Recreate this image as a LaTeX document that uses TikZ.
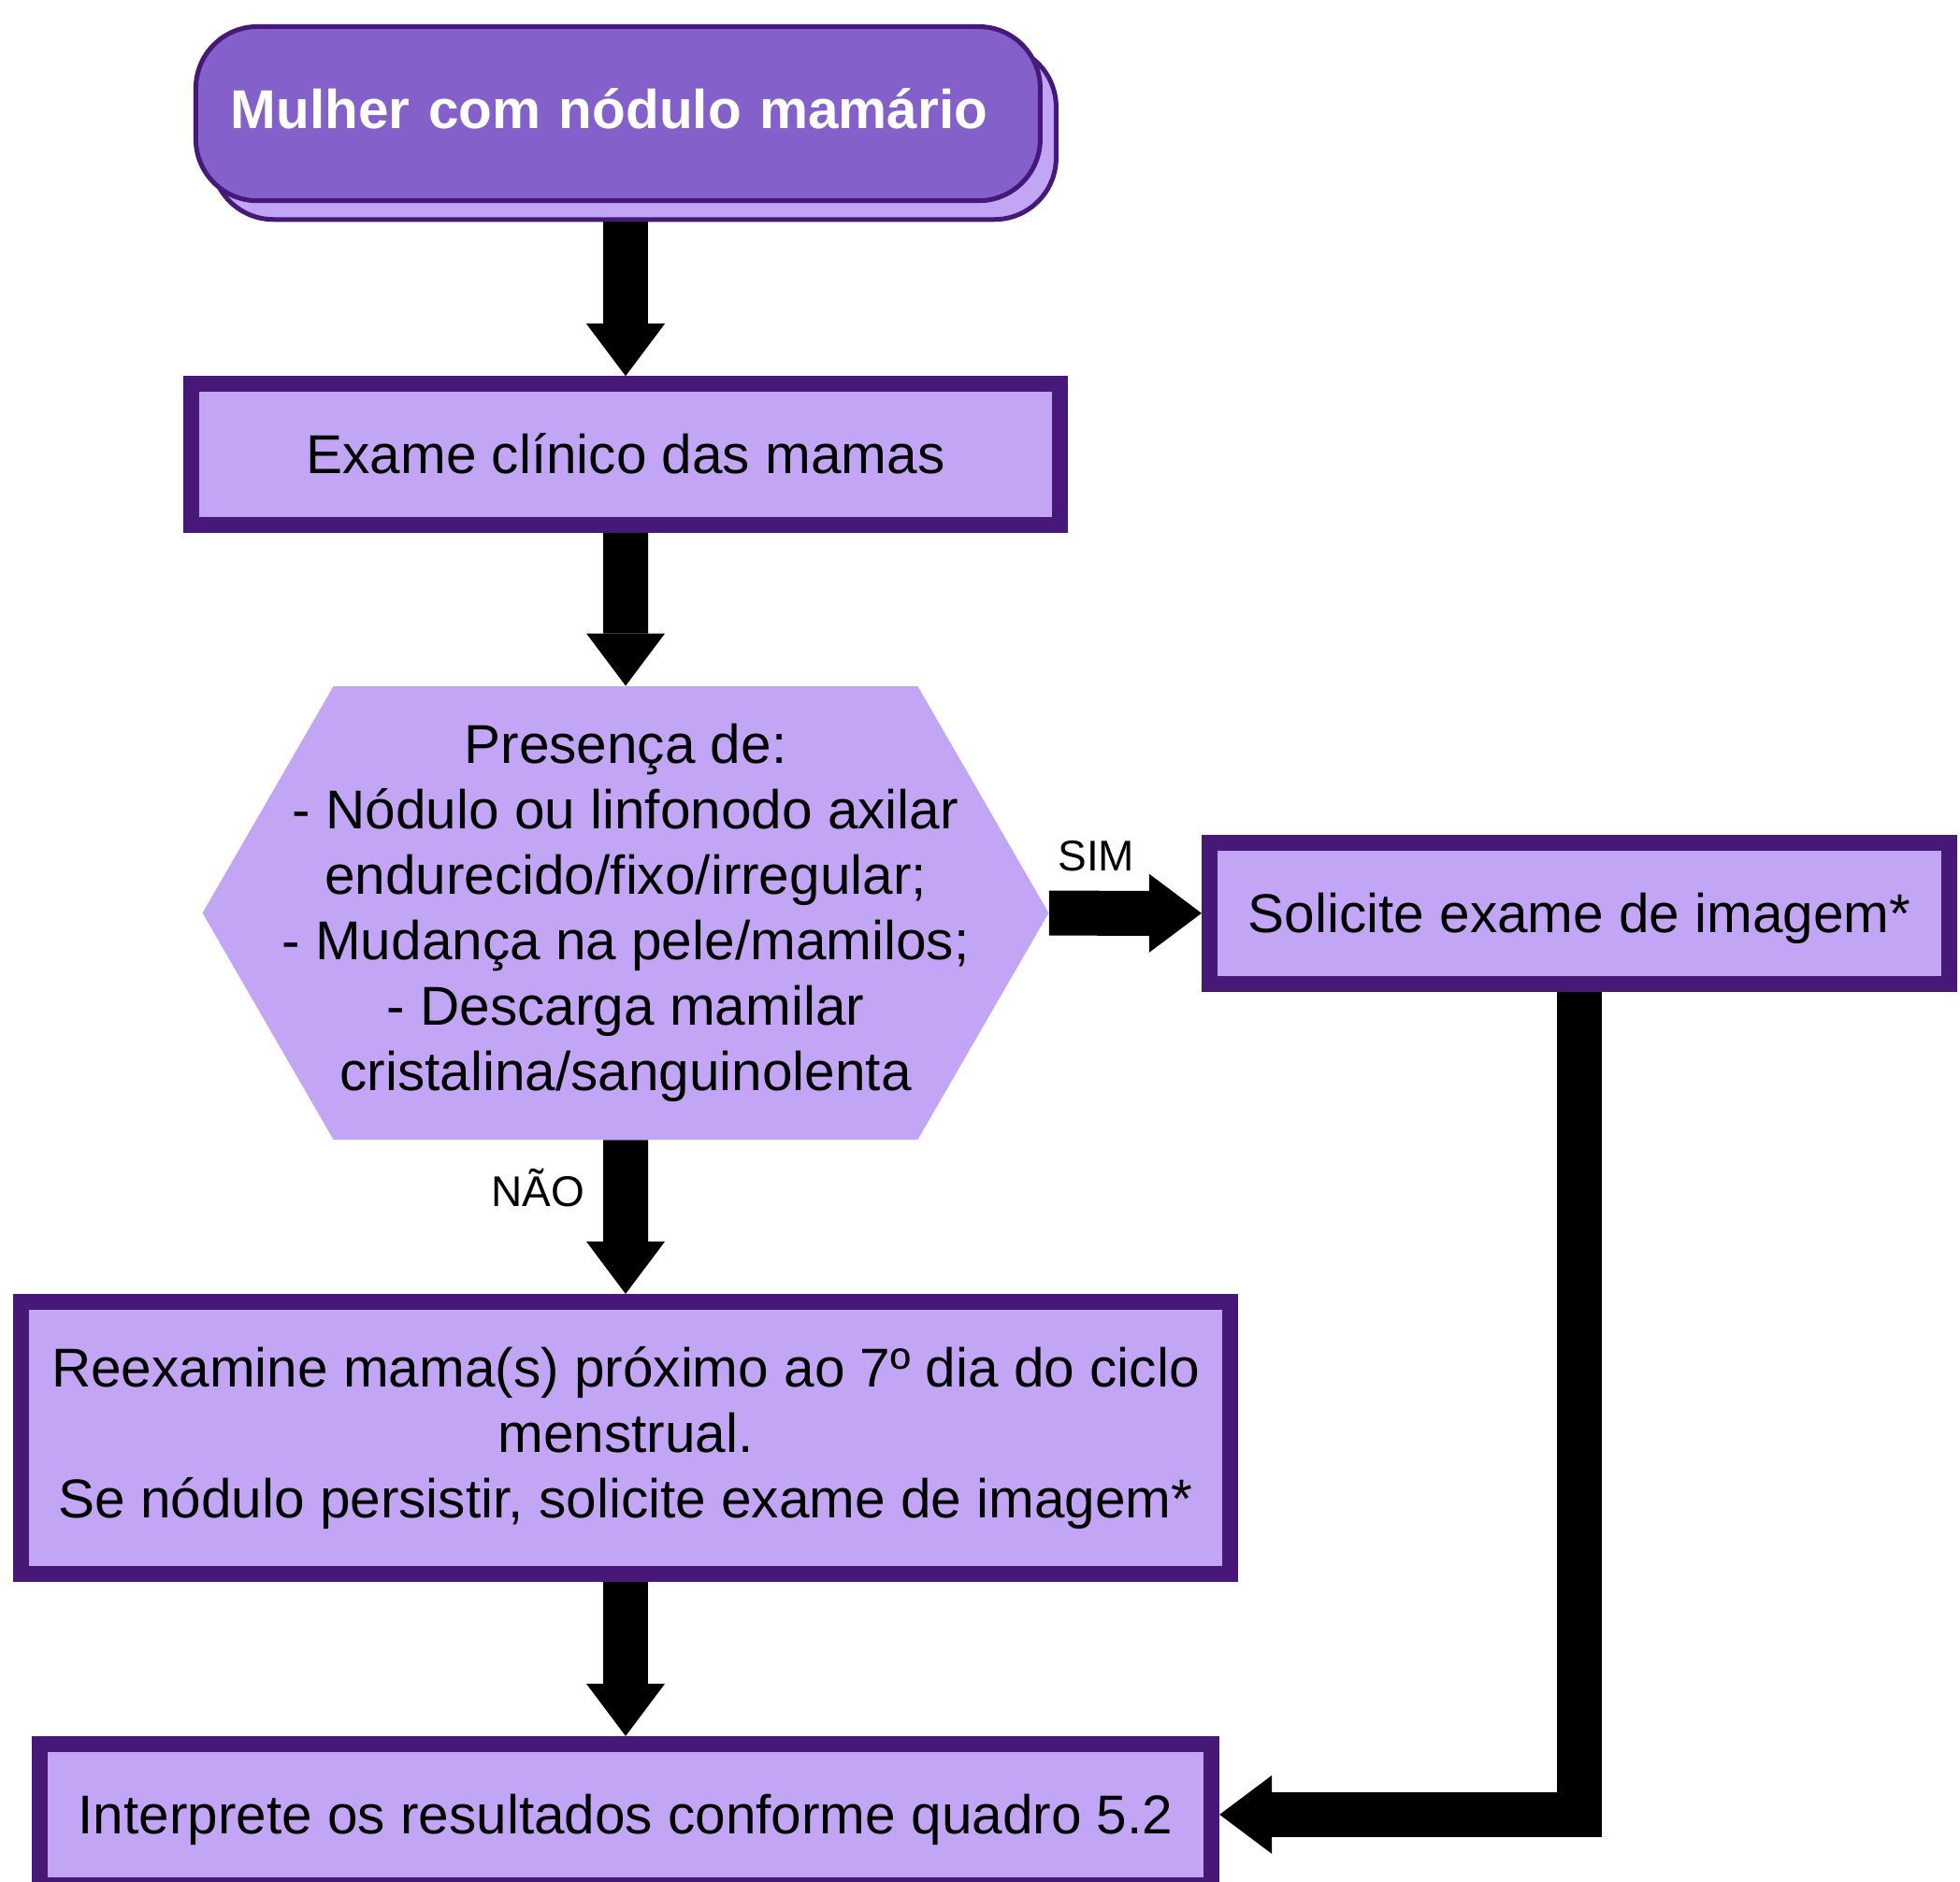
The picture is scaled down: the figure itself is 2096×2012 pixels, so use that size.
\documentclass[tikz,border=0pt]{standalone}
\usepackage{fontspec}
\setmainfont{Liberation Sans}
\usepackage{xcolor}
\usetikzlibrary{
  shapes,
  arrows.meta,
  shadows
}
\definecolor{lilac}{HTML}{C2A6F5}
\definecolor{deeppurple}{HTML}{461877}
\definecolor{midpurple}{HTML}{8461CA}

\begin{document}
\begin{tikzpicture}[x=0.5pt, y=-0.5pt,
  every node/.style = {font=\fontsize{29.25pt}{35pt}\selectfont, align=center},
  box/.style = {rectangle, draw=deeppurple, line width=8.5pt, fill=lilac,
    minimum height=75.5pt, inner sep=0pt},
  onebox/.style = {box, text height=24.9pt, text depth=4.4pt},
  flow/.style = {line width=24pt,
    -{Triangle[width=42pt, length=28pt, line width=0pt]}},
  answer/.style = {font=\fontsize{23pt}{27pt}\selectfont, inner sep=0pt}]
  \useasboundingbox (0,0) rectangle (2096,2012);
  \node[rectangle, rounded corners=33pt, draw=deeppurple, line width=2.5pt,
    fill=midpurple, text=white, font=\bfseries\fontsize{29.25pt}{35pt}\selectfont,
    minimum height=93.15pt, text width=414pt, inner xsep=18.75pt, align=left,
    text height=21.9pt, text depth=6.1pt,
    general shadow={fill=lilac, draw=deeppurple, line width=2.5pt,
      shadow xshift=8.5pt, shadow yshift=-10pt}]
    (start) at (660.9,121.6) {Mulher com nódulo mamário};
  \node[onebox, minimum width=464.75pt] (exam) at (669,486.2) {Exame clínico das mamas};
  \node[signal, signal to=east and west, signal pointer angle=120, fill=lilac,
    minimum height=242.5pt, inner xsep=-27.5pt, inner ysep=0pt]
    (decision) at (669,976.5) {Presença de:\\
    - Nódulo ou linfonodo axilar\\
    endurecido/fixo/irregular;\\
    - Mudança na pele/mamilos;\\
    - Descarga mamilar\\
    cristalina/sanguinolenta};
  \node[onebox, minimum width=395.75pt] (solicite) at (1689.2,977) {Solicite exame de imagem*};
  \node[box, minimum width=646.5pt, minimum height=145.35pt] (reexam) at (669,1537.8)
    {Reexamine mama(s) próximo ao 7º dia do ciclo\\
    menstrual.\\
    Se nódulo persistir, solicite exame de imagem*};
  \node[onebox, minimum width=626.65pt] (result) at (669,1940.9)
    {Interprete os resultados conforme quadro 5.2};

  \draw[flow] ([yshift=-10pt]start.south -| exam.north) -- (exam.north);
  \draw[flow] (exam) -- (decision);
  \draw[flow] (decision) -- node[answer, pos=0.31, anchor=base, yshift=22.5pt] {SIM} (solicite);
  \draw[flow] (decision) -- node[answer, pos=0.43, anchor=base, xshift=-47pt] {NÃO} (reexam);
  \draw[flow] (reexam) -- (result);
  \draw[flow] (solicite) |- (result);
\end{tikzpicture}
\end{document}
